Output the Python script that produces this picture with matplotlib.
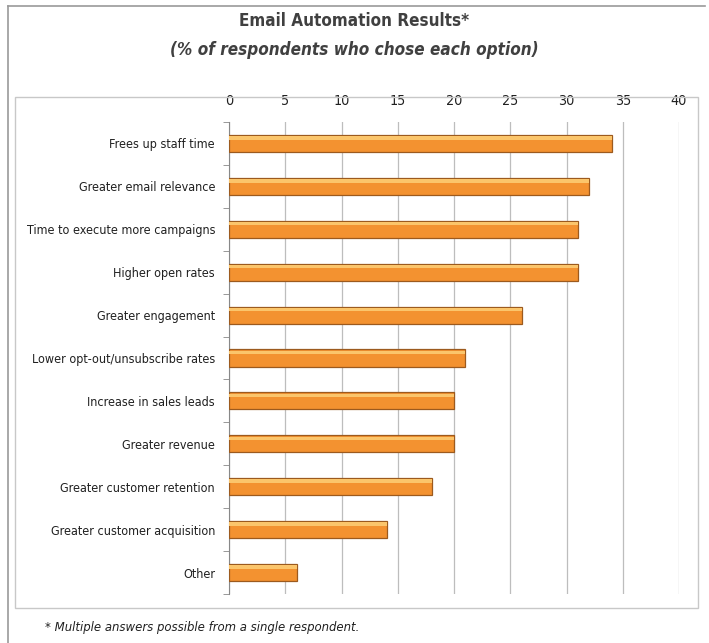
import matplotlib
matplotlib.use("Agg")
import matplotlib.pyplot as plt
from matplotlib.patches import Rectangle
from matplotlib.lines import Line2D
from matplotlib import font_manager

categories = ["Frees up staff time", "Greater email relevance", "Time to execute more campaigns",
              "Higher open rates", "Greater engagement", "Lower opt-out/unsubscribe rates",
              "Increase in sales leads", "Greater revenue", "Greater customer retention",
              "Greater customer acquisition", "Other"]
values = [34, 32, 31, 31, 26, 21, 20, 20, 18, 14, 6]
xticks = [0, 5, 10, 15, 20, 25, 30, 35, 40]

# pick a condensed font if available
avail = {(f.name, str(f.stretch)) for f in font_manager.fontManager.ttflist}
names = {a[0] for a in avail}
if 'Liberation Sans Narrow' in names:
    fam = ['Liberation Sans Narrow', 'DejaVu Sans']
    stretch = 'normal'
    scale = 1.0
elif any(n == 'DejaVu Sans' and s in ('condensed', 'semi-condensed', '87.5', '75') for n, s in avail):
    fam = ['DejaVu Sans']
    stretch = 'condensed'
    scale = 0.92
else:
    fam = ['Liberation Sans', 'DejaVu Sans']
    stretch = 'normal'
    scale = 0.83

W, H = 709, 643
fig = plt.figure(figsize=(W/100, H/100), dpi=100)

def fx(x): return x / W
def fy(y): return 1 - y / H

# outer frame
fig.add_artist(Line2D([fx(8), fx(8)], [fy(6), fy(643)], color='#9a9a9a', lw=1.2))
fig.add_artist(Line2D([fx(8), fx(705)], [fy(6), fy(6)], color='#9a9a9a', lw=1.2))
# inner chart box
fig.add_artist(Rectangle((fx(15), fy(608)), fx(698) - fx(15), fy(97) - fy(608),
                         fill=False, edgecolor='#c8c8c8', lw=1.0))

fig.text(0.5, fy(21), "Email Automation Results*", ha='center', va='center',
         fontsize=13.3 * scale, fontweight='bold', color='#404040',
         family=fam, fontstretch=stretch)
fig.text(0.5, fy(50), "(% of respondents who chose each option)", ha='center', va='center',
         fontsize=13.3 * scale, fontweight='bold', style='italic',
         color='#404040', family=fam, fontstretch=stretch)
fig.text(fx(45), fy(627), "* Multiple answers possible from a single respondent.", ha='left', va='center',
         fontsize=10.2 * scale, style='italic', color='#202020', family=fam, fontstretch=stretch)

ax = fig.add_axes([fx(229), fy(594), fx(679) - fx(229), fy(122) - fy(594)])
n = len(categories)
ypos = list(range(n))
ax.barh(ypos, values, height=0.40, color='#F39230', edgecolor='#9C5A1E', linewidth=0.9, zorder=3)
ax.barh([y - 0.13 for y in ypos], values, height=0.08, color='#FBC56B', linewidth=0, zorder=4)
ax.set_ylim(n - 0.5, -0.5)
ax.set_xlim(0, 40)
ax.set_xticks(xticks)
ax.xaxis.tick_top()
ax.tick_params(axis='x', length=0, pad=10, labelsize=11.2 * scale, colors='#202020')
ax.set_yticks(ypos)
ax.set_yticklabels(categories, fontsize=9.8 * scale, color='#202020', family=fam, fontstretch=stretch)
ax.set_yticks([y - 0.5 for y in range(n + 1)], minor=True)
ax.tick_params(axis='y', which='major', length=0, pad=10)
ax.tick_params(axis='y', which='minor', length=4, color='#888888')
for lbl in ax.get_xticklabels():
    lbl.set_family(fam)
    lbl.set_fontstretch(stretch)
ax.grid(axis='x', color='#bdbdbd', lw=0.9, zorder=0)
for s in ['top', 'right', 'bottom']:
    ax.spines[s].set_visible(False)
ax.spines['left'].set_color('#888888')

fig.savefig("out.png", dpi=100)
